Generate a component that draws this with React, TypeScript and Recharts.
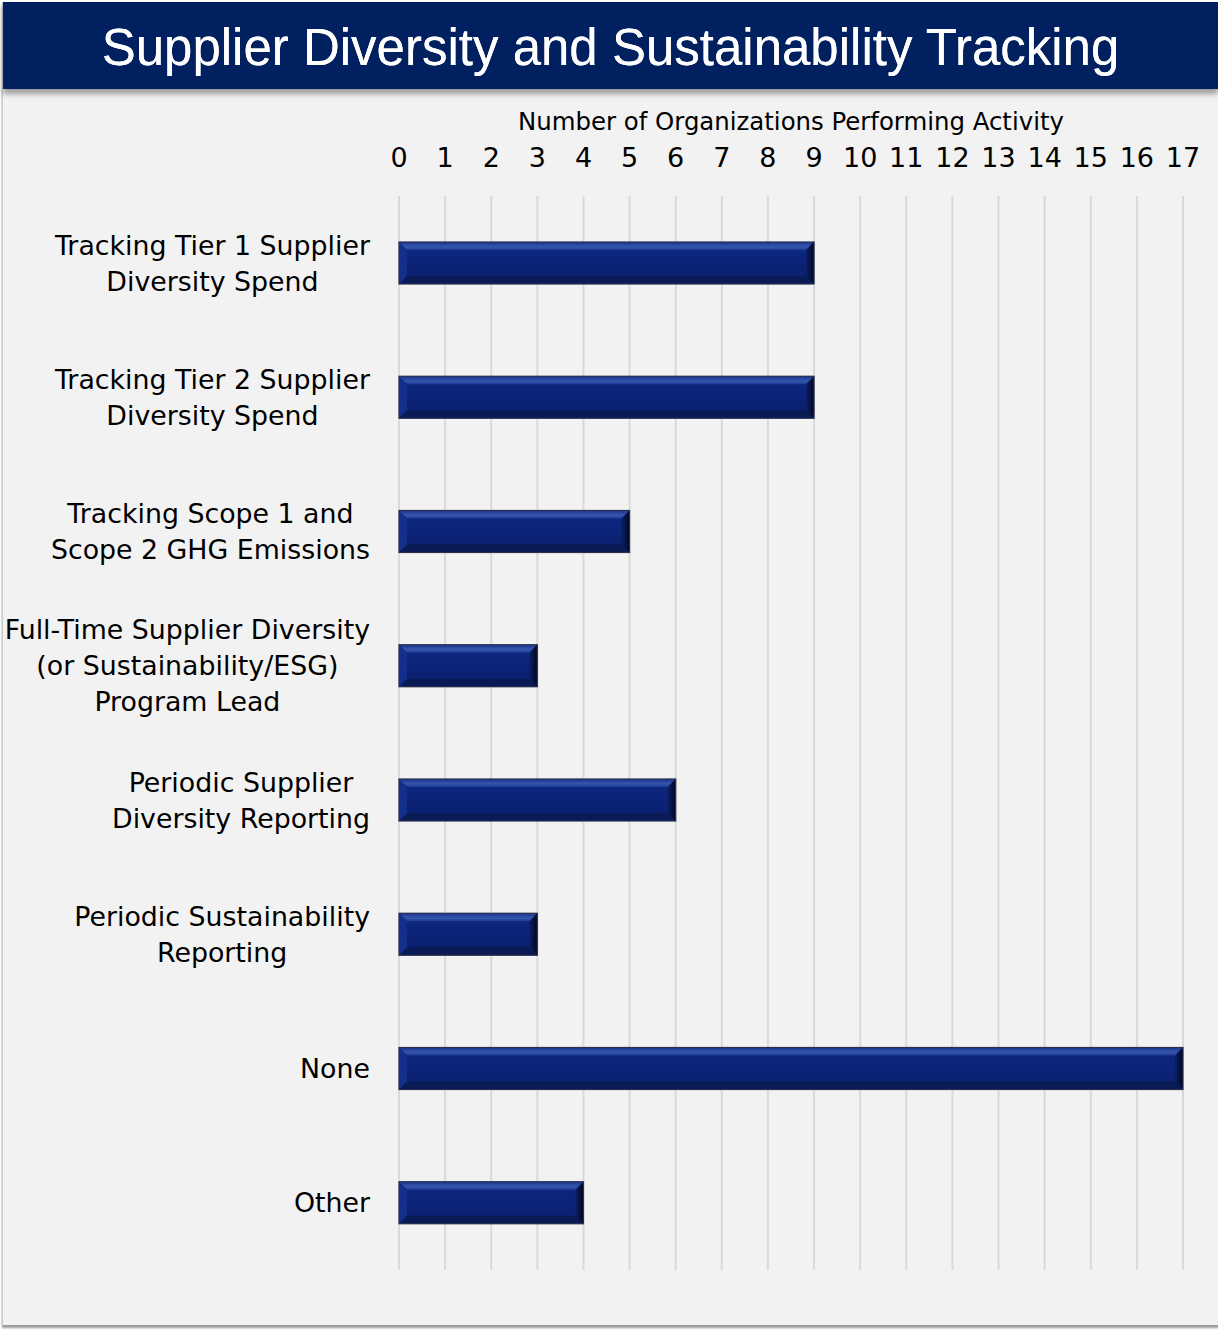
import React from "react";
import { BarChart, Bar, XAxis, YAxis, CartesianGrid } from "recharts";

const categories = [
  "Tracking Tier 1 Supplier\nDiversity Spend",
  "Tracking Tier 2 Supplier\nDiversity Spend",
  "Tracking Scope 1 and\nScope 2 GHG Emissions",
  "Full-Time Supplier Diversity\n(or Sustainability/ESG)\nProgram Lead",
  "Periodic Supplier\nDiversity Reporting",
  "Periodic Sustainability\nReporting",
  "None",
  "Other",
];
const values = [9, 9, 5, 3, 6, 3, 17, 4];
const xTicks = [0, 1, 2, 3, 4, 5, 6, 7, 8, 9, 10, 11, 12, 13, 14, 15, 16, 17];
const title = "Supplier Diversity and Sustainability Tracking";
const xAxisTitle = "Number of Organizations Performing Activity";

const data = categories.map((c, i) => ({ name: c, value: values[i] }));

const FONT = '"DejaVu Sans", sans-serif';
const LABEL_SIZE = 26.8;

let ctx: CanvasRenderingContext2D | null = null;
function measure(t: string) {
  if (!ctx) {
    const c = document.createElement("canvas");
    ctx = c.getContext("2d");
  }
  if (!ctx) return t.length * 14;
  ctx.font = `${LABEL_SIZE}px "DejaVu Sans"`;
  return ctx.measureText(t).width;
}

const YTick = (props: any) => {
  const { x, y, payload } = props;
  const lines: string[] = String(payload.value).split("\n");
  const maxW = Math.max(...lines.map(measure));
  const cx = x - maxW / 2;
  const lh = 36;
  const start = y - ((lines.length - 1) * lh) / 2;
  return (
    <g>
      {lines.map((l, i) => (
        <text
          key={i}
          x={cx}
          y={start + i * lh}
          textAnchor="middle"
          dominantBaseline="central"
          fontFamily={FONT}
          fontSize={LABEL_SIZE}
          fill="#000"
        >
          {l}
        </text>
      ))}
    </g>
  );
};

const XTick = (props: any) => {
  const { x, y, payload } = props;
  return (
    <text x={x} y={y} textAnchor="middle" fontFamily={FONT} fontSize={27} fill="#000">
      {payload.value}
    </text>
  );
};

const BevelBar = (props: any) => {
  const { x, y, width, height } = props;
  if (!width || width <= 0) return null;
  const b = 8;
  const w = width;
  const h = height;
  return (
    <g>
      <rect x={x} y={y} width={w} height={h} fill="url(#barMain)" />
      <polygon
        points={`${x},${y} ${x + w},${y} ${x + w - b},${y + b} ${x + b},${y + b}`}
        fill="url(#barTop)"
      />
      <polygon
        points={`${x},${y + h} ${x + w},${y + h} ${x + w - b},${y + h - b} ${x + b},${y + h - b}`}
        fill="#0a1a55"
      />
      <polygon
        points={`${x + w},${y} ${x + w},${y + h} ${x + w - b},${y + h - b} ${x + w - b},${y + b}`}
        fill="url(#barRight)"
      />
      <polygon
        points={`${x},${y} ${x},${y + h} ${x + b},${y + h - b} ${x + b},${y + b}`}
        fill="#142f8a"
      />
      <rect x={x} y={y} width={w} height={h} fill="none" stroke="#2a2f50" strokeWidth={1.2} />
    </g>
  );
};

export default function App() {
  return (
    <div
      style={{
        position: "absolute",
        left: 0,
        top: 0,
        width: 1218,
        height: 1330,
        background: "#ffffff",
        overflow: "hidden",
      }}
    >
      <div
        style={{
          position: "absolute",
          left: 2,
          top: 2,
          width: 1216,
          height: 1323,
          background: "#f2f2f2",
          borderLeft: "1px solid #c8c8c8",
          boxShadow: "0px 3px 2px #9a9a9a",
        }}
      />
      <div
        style={{
          position: "absolute",
          left: 3,
          top: 2,
          width: 1215,
          height: 87,
          background: "#002060",
          boxShadow: "0px 5px 5px rgba(0,0,0,0.35)",
          color: "#ffffff",
          fontFamily: '"Liberation Sans", Arial, sans-serif',
          fontSize: 51,
          lineHeight: "92px",
          textAlign: "center",
          whiteSpace: "nowrap",
          textShadow: "0 0 0.6px #ffffff",
        }}
      >
        {title}
      </div>
      <div
        style={{
          position: "absolute",
          left: 399,
          width: 784,
          top: 107,
          textAlign: "center",
          fontFamily: FONT,
          fontSize: 24.4,
          color: "#000",
          whiteSpace: "nowrap",
        }}
      >
        {xAxisTitle}
      </div>
      <div style={{ position: "absolute", left: 0, top: 0 }}>
        <BarChart
          width={1218}
          height={1330}
          data={data}
          layout="vertical"
          margin={{ top: 100, right: 35, bottom: 60, left: 0 }}
          barCategoryGap={0}
        >
          <defs>
            <linearGradient id="barMain" x1="0" y1="0" x2="0" y2="1">
              <stop offset="0%" stopColor="#0f2a82" />
              <stop offset="50%" stopColor="#0b2378" />
              <stop offset="100%" stopColor="#0a1f6a" />
            </linearGradient>
            <linearGradient id="barTop" x1="0" y1="0" x2="0" y2="1">
              <stop offset="0%" stopColor="#1a3690" />
              <stop offset="60%" stopColor="#3556ad" />
              <stop offset="100%" stopColor="#1d3a92" />
            </linearGradient>
            <linearGradient id="barRight" x1="0" y1="0" x2="1" y2="0">
              <stop offset="0%" stopColor="#0a1f68" />
              <stop offset="100%" stopColor="#02061c" />
            </linearGradient>
          </defs>
          <CartesianGrid
            horizontal={false}
            vertical={true}
            stroke="#d9d9d9"
            strokeWidth={2}
          />
          <XAxis
            type="number"
            orientation="top"
            domain={[0, 17]}
            ticks={xTicks}
            interval={0}
            axisLine={false}
            tickLine={false}
            tickSize={0}
            tickMargin={29}
            height={96}
            tick={<XTick />}
          />
          <YAxis
            type="category"
            dataKey="name"
            width={399}
            axisLine={false}
            tickLine={false}
            tickSize={0}
            tickMargin={29}
            interval={0}
            tick={<YTick />}
          />
          <Bar
            dataKey="value"
            barSize={42}
            isAnimationActive={false}
            shape={<BevelBar />}
          />
        </BarChart>
      </div>
    </div>
  );
}
